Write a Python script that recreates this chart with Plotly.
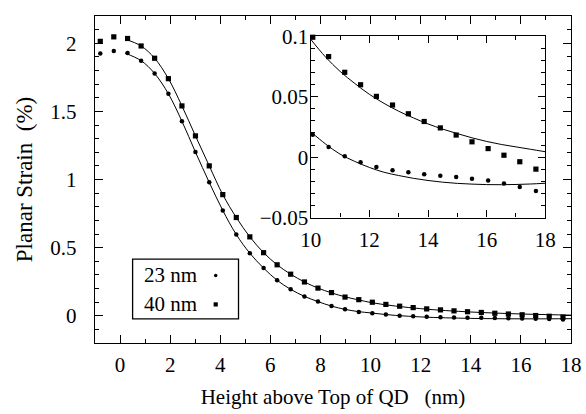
import plotly.graph_objects as go

# ---------------- data ----------------
height_nm = [-0.79, -0.25, 0.30, 0.84, 1.38, 1.93, 2.47, 3.01, 3.56, 4.10,
             4.64, 5.18, 5.73, 6.27, 6.81, 7.36, 7.90, 8.44, 8.98, 9.53,
             10.07, 10.61, 11.16, 11.70, 12.24, 12.79, 13.33, 13.87, 14.42, 14.96,
             15.50, 16.05, 16.59, 17.13, 17.68]

strain_23nm = [1.924, 1.943, 1.929, 1.872, 1.778, 1.629, 1.428, 1.201, 0.979, 0.773,
               0.596, 0.459, 0.350, 0.260, 0.194, 0.142, 0.104, 0.071, 0.047, 0.028,
               0.0186, 0.0085, 0.0008, -0.0042, -0.0082, -0.0109, -0.0125, -0.0141, -0.0154, -0.0165,
               -0.0178, -0.0194, -0.0218, -0.0247, -0.0279]

strain_40nm = [2.014, 2.047, 2.035, 1.980, 1.890, 1.740, 1.540, 1.320, 1.100, 0.889,
               0.721, 0.579, 0.463, 0.374, 0.305, 0.248, 0.203, 0.170, 0.137, 0.118,
               0.0992, 0.0832, 0.0702, 0.0599, 0.0503, 0.0431, 0.0359, 0.0295, 0.0242, 0.0183,
               0.0127, 0.0071, 0.0016, -0.0038, -0.0099]

# fitted curves
fit_x = [0.2, 0.84, 1.38, 1.93, 2.47, 3.01, 3.56, 4.10, 4.64, 5.18, 5.73, 6.27, 6.81,
         7.36, 7.90, 8.44, 8.98, 9.53, 10.0, 10.5, 11.0, 11.5, 12.0, 12.5, 13.0, 13.5,
         14.0, 14.5, 15.0, 15.5, 16.0, 16.5, 17.0, 17.5, 18.0]
fit_23nm = [1.927, 1.872, 1.778, 1.629, 1.428, 1.201, 0.979, 0.773, 0.596, 0.459, 0.350, 0.260, 0.194,
            0.142, 0.104, 0.071, 0.047, 0.030, 0.021, 0.011, 0.0025, -0.0035, -0.0085, -0.0125, -0.0152, -0.0175,
            -0.0193, -0.0207, -0.0217, -0.0223, -0.0227, -0.0228, -0.0226, -0.0222, -0.0216]
fit_40nm = [2.030, 1.980, 1.890, 1.740, 1.540, 1.320, 1.100, 0.889, 0.721, 0.579, 0.463, 0.374, 0.305,
            0.248, 0.203, 0.168, 0.139, 0.116, 0.0975, 0.083, 0.071, 0.061, 0.052, 0.0445, 0.038, 0.0325,
            0.0275, 0.0232, 0.0195, 0.016, 0.013, 0.0105, 0.0085, 0.0065, 0.0045]

legend_labels = ["23 nm", "40 nm"]

# ---------------- figure ----------------
FONT = "Liberation Serif, Times New Roman, Tinos, DejaVu Serif, serif"
FS = 21
BLACK = "black"
CLEAR = "rgba(0,0,0,0)"

fig = go.Figure()

# main panel
for fy in (fit_23nm, fit_40nm):
    fig.add_trace(go.Scatter(x=fit_x, y=fy, mode="lines", line=dict(color=BLACK, width=1, shape="spline"),
                             xaxis="x", yaxis="y", showlegend=False, hoverinfo="skip"))
fig.add_trace(go.Scatter(x=height_nm, y=strain_23nm, mode="markers",
                         marker=dict(symbol="circle", size=4.5, color=BLACK),
                         xaxis="x", yaxis="y", showlegend=False))
fig.add_trace(go.Scatter(x=height_nm, y=strain_40nm, mode="markers",
                         marker=dict(symbol="square", size=5.2, color=BLACK),
                         xaxis="x", yaxis="y", showlegend=False))

# inset panel (zoom on 10..18 nm)
IN_X = (10, 18)
IN_Y = (-0.05, 0.1)


def sel(xs, ys):
    pts = [(a, b) for a, b in zip(xs, ys) if IN_X[0] <= a <= IN_X[1] and IN_Y[0] <= b <= IN_Y[1]]
    return [p[0] for p in pts], [p[1] for p in pts]


for fy in (fit_23nm, fit_40nm):
    fx2, fy2 = sel(fit_x, fy)
    fig.add_trace(go.Scatter(x=fx2, y=fy2, mode="lines", line=dict(color=BLACK, width=1, shape="spline"),
                             xaxis="x2", yaxis="y2", showlegend=False, hoverinfo="skip"))
hx, hy = sel(height_nm, strain_23nm)
fig.add_trace(go.Scatter(x=hx, y=hy, mode="markers", marker=dict(symbol="circle", size=4.5, color=BLACK),
                         xaxis="x2", yaxis="y2", showlegend=False, cliponaxis=False))
hx, hy = sel(height_nm, strain_40nm)
fig.add_trace(go.Scatter(x=hx, y=hy, mode="markers", marker=dict(symbol="square", size=5.2, color=BLACK),
                         xaxis="x2", yaxis="y2", showlegend=False, cliponaxis=False))

# hand-built legend (text left, symbol right) on a hidden unit axis
LEG_X0, LEG_X1, LEG_Y0, LEG_Y1 = 0.079, 0.3015, 0.0737, 0.2566
leg_rows_y = [0.2065, 0.118]
leg_sym_x = 0.2536
leg_text_x = 0.0977
fig.add_shape(type="rect", xref="paper", yref="paper", x0=LEG_X0, x1=LEG_X1, y0=LEG_Y0, y1=LEG_Y1,
              line=dict(color=BLACK, width=1.3), fillcolor=CLEAR, layer="above")
fig.add_trace(go.Scatter(x=[leg_sym_x], y=[leg_rows_y[0]], mode="markers",
                         marker=dict(symbol="circle", size=3.5, color=BLACK),
                         xaxis="x3", yaxis="y3", showlegend=False, hoverinfo="skip"))
fig.add_trace(go.Scatter(x=[leg_sym_x], y=[leg_rows_y[1]], mode="markers",
                         marker=dict(symbol="square", size=4.2, color=BLACK),
                         xaxis="x3", yaxis="y3", showlegend=False, hoverinfo="skip"))
for lab, yy in zip(legend_labels, leg_rows_y):
    fig.add_annotation(text=lab, xref="paper", yref="paper", x=leg_text_x, y=yy, xanchor="left",
                       yanchor="middle", showarrow=False, font=dict(family=FONT, size=FS, color=BLACK))

tickfont = dict(family=FONT, size=FS, color=BLACK)
common = dict(showline=True, linecolor=BLACK, linewidth=1.4, mirror="allticks", ticks="inside",
              tickcolor=BLACK, tickwidth=1, showgrid=False, zeroline=False, tickfont=tickfont)

fig.update_layout(
    width=586, height=414,
    margin=dict(l=95, r=10, t=4, b=71),
    paper_bgcolor="white", plot_bgcolor=CLEAR,
    showlegend=False,
    font=dict(family=FONT, size=FS, color=BLACK),
    xaxis=dict(domain=[0, 1], range=[-1, 18], tick0=0, dtick=2, ticklen=8,
               minor=dict(dtick=1, ticks="inside", ticklen=4, tickcolor=BLACK, showgrid=False),
               ticklabelstandoff=3,
               title=dict(text="Height above Top of QD\u00a0\u00a0\u00a0(nm)",
                          font=dict(family=FONT, size=FS, color=BLACK), standoff=12),
               **common),
    yaxis=dict(domain=[0, 1], range=[-0.2, 2.2], tick0=0, dtick=0.5, ticklen=8,
               minor=dict(dtick=0.1, ticks="inside", ticklen=4, tickcolor=BLACK, showgrid=False),
               ticklabelstandoff=13,
               title=dict(text="Planar Strain\u00a0\u00a0(%)",
                          font=dict(family=FONT, size=23, color=BLACK), standoff=11),
               **common),
    xaxis2=dict(domain=[0.4532, 0.946], range=[10, 18], tick0=10, dtick=2, ticklen=7, anchor="y2",
                minor=dict(dtick=1, ticks="inside", ticklen=4, tickcolor=BLACK, showgrid=False),
                ticklabelstandoff=3, **common),
    yaxis2=dict(domain=[0.3835, 0.938], range=[-0.05, 0.1], tick0=0, dtick=0.05, ticklen=7, anchor="x2",
                minor=dict(dtick=0.01, ticks="inside", ticklen=4, tickcolor=BLACK, showgrid=False),
                ticklabelstandoff=-3, **common),
    xaxis3=dict(domain=[0, 1], range=[0, 1], visible=False, anchor="y3"),
    yaxis3=dict(domain=[0, 1], range=[0, 1], visible=False, anchor="x3"),
)

fig.write_html("out.html")
